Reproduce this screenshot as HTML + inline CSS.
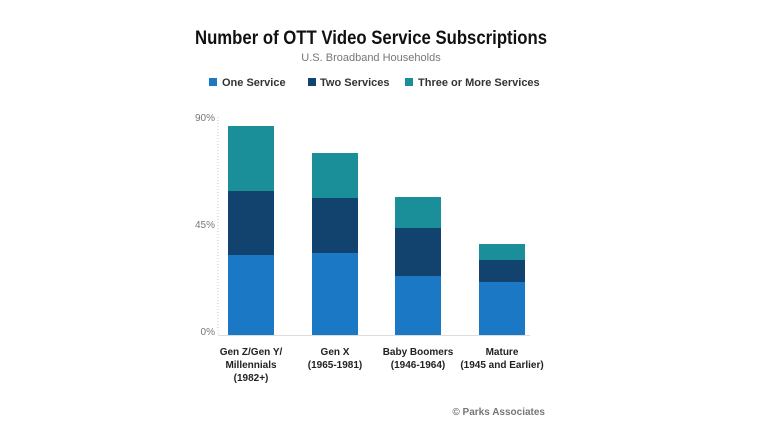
<!DOCTYPE html>
<html><head><style>
body{margin:0;width:768px;height:435px;background:#fff;overflow:hidden;font-family:"Liberation Sans",sans-serif}
</style></head><body>
<svg width="768" height="435" xmlns="http://www.w3.org/2000/svg" font-family="Liberation Sans, sans-serif">
<text x="371" y="44" text-anchor="middle" font-size="19" font-weight="bold" fill="#111" textLength="352" lengthAdjust="spacingAndGlyphs">Number of OTT Video Service Subscriptions</text>
<text x="371" y="61" text-anchor="middle" font-size="11" fill="#777">U.S. Broadband Households</text>
<rect x="209" y="78" width="8" height="8" fill="#1a78c4"/>
<text x="222" y="86" font-size="11" font-weight="bold" fill="#333">One Service</text>
<rect x="308" y="78" width="8" height="8" fill="#11436e"/>
<text x="320" y="86" font-size="11" font-weight="bold" fill="#333">Two Services</text>
<rect x="405" y="78" width="8" height="8" fill="#1a8f9a"/>
<text x="418" y="86" font-size="11" font-weight="bold" fill="#333">Three or More Services</text>
<line x1="218" y1="117" x2="218" y2="335" stroke="#ccc" stroke-dasharray="1,2"/>
<line x1="218" y1="335.5" x2="530" y2="335.5" stroke="#ddd"/>
<g font-size="10" fill="#777" text-anchor="end">
<text x="215" y="121">90%</text><text x="215" y="228">45%</text><text x="215" y="335">0%</text></g>
<g>
<rect x="228" y="126" width="46" height="65" fill="#1a8f9a"/><rect x="228" y="191" width="46" height="64" fill="#11436e"/><rect x="228" y="255" width="46" height="80" fill="#1a78c4"/>
<rect x="312" y="153" width="46" height="45" fill="#1a8f9a"/><rect x="312" y="198" width="46" height="55" fill="#11436e"/><rect x="312" y="253" width="46" height="82" fill="#1a78c4"/>
<rect x="395" y="197" width="46" height="31" fill="#1a8f9a"/><rect x="395" y="228" width="46" height="48" fill="#11436e"/><rect x="395" y="276" width="46" height="59" fill="#1a78c4"/>
<rect x="479" y="244" width="46" height="16" fill="#1a8f9a"/><rect x="479" y="260" width="46" height="22" fill="#11436e"/><rect x="479" y="282" width="46" height="53" fill="#1a78c4"/>
</g>
<g font-size="10" font-weight="bold" fill="#222" text-anchor="middle">
<text x="251" y="355">Gen Z/Gen Y/</text><text x="251" y="368">Millennials</text><text x="251" y="381">(1982+)</text>
<text x="335" y="355">Gen X</text><text x="335" y="368">(1965-1981)</text>
<text x="418" y="355">Baby Boomers</text><text x="418" y="368">(1946-1964)</text>
<text x="502" y="355">Mature</text><text x="502" y="368">(1945 and Earlier)</text>
</g>
<text x="545" y="415" text-anchor="end" font-size="10" font-weight="bold" fill="#777">© Parks Associates</text>
</svg>
</body></html>
